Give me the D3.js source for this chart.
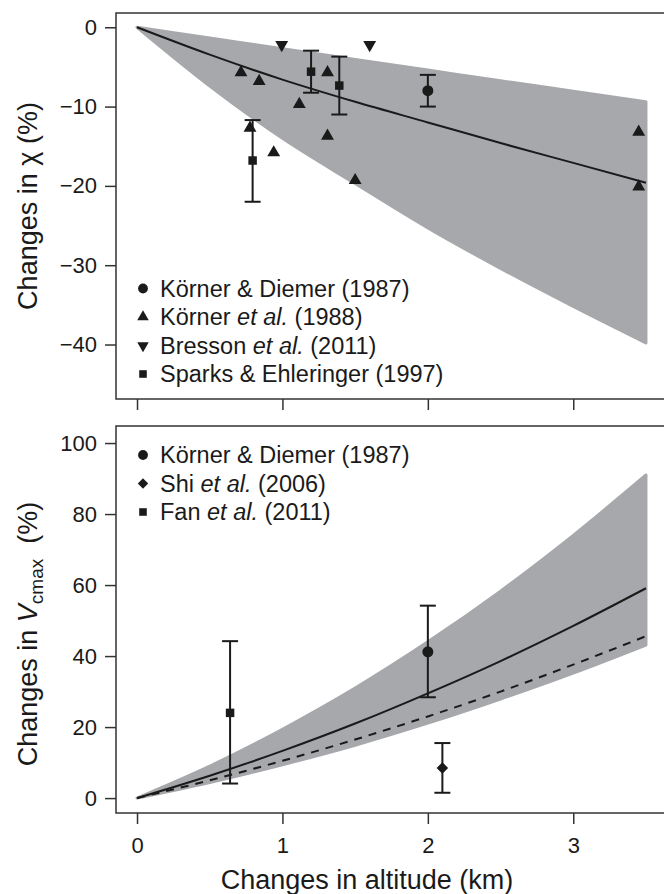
<!DOCTYPE html>
<html>
<head>
<meta charset="utf-8">
<script src="https://cdn.jsdelivr.net/npm/d3@7"></script>
<style>
  body { margin: 0; background: #fff; }
  svg { display: block; font-family: "Liberation Sans", Arial, sans-serif; }
  .axis text { font-size: 22px; fill: #1a1a1a; }
  .axis line { stroke: #333; stroke-width: 1.5; }
  .axis path { display: none; }
  .legend text { font-size: 23.5px; fill: #1a1a1a; }
  .title { font-size: 27px; fill: #1a1a1a; }
</style>
</head>
<body>
<div id="chart"></div>
<script>
// Data
const altGrid = [0, 0.5, 1, 1.5, 2, 2.5, 3, 3.5];

// top panel: changes in chi (%)
const chiFit = [0, -3.45, -6.6, -9.4, -12.0, -14.6, -17.1, -19.6];
const chiUpper = [0, -1.35, -2.7, -4.05, -5.4, -6.75, -8.05, -9.4];
const chiLower = [0, -7.4, -14.0, -19.7, -25.3, -30.4, -35.2, -39.8];

const chiKornerDiemer = [{ x: 2.0, y: -8.0, lo: -10.0, hi: -6.0 }];
const chiKorner88 = [
    { x: 0.715, y: -5.7 }, { x: 0.84, y: -6.8 }, { x: 0.777, y: -12.7 },
    { x: 0.94, y: -15.8 }, { x: 1.116, y: -9.7 }, { x: 1.31, y: -5.7 },
    { x: 1.31, y: -13.7 }, { x: 1.5, y: -19.3 }, { x: 3.45, y: -13.2 },
    { x: 3.45, y: -20.1 }
];
const chiBresson = [{ x: 0.995, y: -2.2 }, { x: 1.6, y: -2.2 }];
const chiSparks = [
    { x: 0.795, y: -16.8, lo: -22.0, hi: -11.7 },
    { x: 1.197, y: -5.6, lo: -8.25, hi: -2.95 },
    { x: 1.391, y: -7.35, lo: -11.0, hi: -3.7 }
];

// bottom panel: changes in Vcmax (%)
const vFit = [0, 6.3, 13.3, 21.0, 29.5, 38.6, 48.5, 59.1];
const vDashed = [0, 5.0, 10.5, 16.5, 23.0, 30.0, 37.6, 45.6];
const vUpper = [0, 9.0, 19.4, 31.0, 44.0, 58.3, 74.0, 91.0];
const vLower = [0, 4.4, 9.4, 14.9, 21.1, 27.9, 35.2, 43.1];

const vKornerDiemer = [{ x: 2.0, y: 41.2, lo: 28.4, hi: 54.2 }];
const vShi = [{ x: 2.1, y: 8.5, lo: 1.5, hi: 15.5 }];
const vFan = [{ x: 0.64, y: 24.0, lo: 4.1, hi: 44.2 }];

const altTicks = [0, 1, 2, 3];
const chiTicks = [0, -10, -20, -30, -40];
const vTicks = [0, 20, 40, 60, 80, 100];

const W = 664, H = 894;
const left = 116, right = 680;
const ink = "#1a1a1a", band = "#a7a8ab";

const svg = d3.select("#chart").append("svg")
    .attr("width", W)
    .attr("height", H);

const x = d3.scaleLinear().domain([-0.1445, 3.734]).range([left, right]);

const line = (ys, y) => d3.line()
    .x((d, i) => x(altGrid[i]))
    .y(d => y(d))
    .curve(d3.curveMonotoneX)(ys);

function bandPath(lo, hi, y) {
    return d3.area()
        .x((d, i) => x(altGrid[i]))
        .y0((d, i) => y(lo[i]))
        .y1((d, i) => y(hi[i]))
        .curve(d3.curveMonotoneX)(altGrid);
}

function errorBars(g, data, y) {
    const eb = g.append("g").attr("stroke", ink).attr("stroke-width", 2);
    data.forEach(d => {
        eb.append("line").attr("x1", x(d.x)).attr("x2", x(d.x)).attr("y1", y(d.lo)).attr("y2", y(d.hi));
        [d.lo, d.hi].forEach(v => {
            eb.append("line").attr("x1", x(d.x) - 8).attr("x2", x(d.x) + 8).attr("y1", y(v)).attr("y2", y(v));
        });
    });
}

const sym = {
    circle: { type: d3.symbolCircle, size: 95, rot: 0 },
    up: { type: d3.symbolTriangle, size: 72, rot: 0 },
    down: { type: d3.symbolTriangle, size: 72, rot: 180 },
    square: { type: d3.symbolSquare, size: 72, rot: 0 },
    diamond: { type: d3.symbolDiamond2, size: 85, rot: 0 }
};

function points(g, data, y, kind, scale = 1) {
    const s = sym[kind];
    g.append("g").selectAll("path")
        .data(data)
        .enter()
        .append("path")
        .attr("d", d3.symbol().type(s.type).size(s.size * scale))
        .attr("transform", d => `translate(${x(d.x)},${y(d.y)}) rotate(${s.rot})`)
        .attr("fill", ink);
}

function legend(items, y0) {
    const g = svg.append("g").attr("class", "legend");
    items.forEach((it, i) => {
        const cy = y0 + i * 28.5;
        const s = sym[it.kind];
        g.append("path")
            .attr("d", d3.symbol().type(s.type).size(s.size * 0.8))
            .attr("transform", `translate(143,${cy}) rotate(${s.rot})`)
            .attr("fill", ink);
        const t = g.append("text").attr("x", 160).attr("y", cy).attr("dy", "0.35em");
        it.parts.forEach(p => {
            t.append("tspan").text(p[0]).attr("font-style", p[1] ? "italic" : null);
        });
    });
}

// ---- top panel
const topBox = { y0: 13, y1: 399 };
const yChi = d3.scaleLinear().domain([1.8, -46.87]).range([topBox.y0, topBox.y1]);
const gTop = svg.append("g");

gTop.append("path")
    .attr("d", bandPath(chiLower, chiUpper, yChi))
    .attr("fill", band).attr("stroke", band).attr("stroke-width", 3).attr("stroke-linejoin", "round");
gTop.append("path")
    .attr("d", line(chiFit, yChi))
    .attr("fill", "none").attr("stroke", ink).attr("stroke-width", 2);

errorBars(gTop, chiKornerDiemer, yChi);
errorBars(gTop, chiSparks, yChi);
points(gTop, chiKorner88, yChi, "up");
points(gTop, chiBresson, yChi, "down");
points(gTop, chiKornerDiemer, yChi, "circle");
points(gTop, chiSparks, yChi, "square");

svg.append("rect")
    .attr("x", left).attr("y", topBox.y0)
    .attr("width", right - left).attr("height", topBox.y1 - topBox.y0)
    .attr("fill", "none").attr("stroke", "#333").attr("stroke-width", 1.5);

svg.append("g").attr("class", "axis")
    .attr("transform", `translate(${left},0)`)
    .call(d3.axisLeft(yChi).tickValues(chiTicks).tickSize(11).tickPadding(8));
svg.append("g").attr("class", "axis")
    .attr("transform", `translate(0,${topBox.y1})`)
    .call(d3.axisBottom(x).tickValues(altTicks).tickSize(11).tickFormat(""));

svg.append("text").attr("class", "title")
    .attr("transform", `translate(28,${(topBox.y0 + topBox.y1) / 2}) rotate(-90)`)
    .attr("text-anchor", "middle").attr("dy", "0.35em")
    .text("Changes in \u03c7 (%)");

legend([
    { kind: "circle", parts: [["K\u00f6rner & Diemer (1987)", false]] },
    { kind: "up", parts: [["K\u00f6rner ", false], ["et al.", true], [" (1988)", false]] },
    { kind: "down", parts: [["Bresson ", false], ["et al.", true], [" (2011)", false]] },
    { kind: "square", parts: [["Sparks & Ehleringer (1997)", false]] }
], 288.5);

// ---- bottom panel
const botBox = { y0: 426, y1: 813 };
const yV = d3.scaleLinear().domain([104.8, -4.2]).range([botBox.y0, botBox.y1]);
const gBot = svg.append("g");

gBot.append("path")
    .attr("d", bandPath(vLower, vUpper, yV))
    .attr("fill", band).attr("stroke", band).attr("stroke-width", 3).attr("stroke-linejoin", "round");
gBot.append("path")
    .attr("d", line(vDashed, yV))
    .attr("fill", "none").attr("stroke", ink).attr("stroke-width", 2).attr("stroke-dasharray", "8,7");
gBot.append("path")
    .attr("d", line(vFit, yV))
    .attr("fill", "none").attr("stroke", ink).attr("stroke-width", 2);

errorBars(gBot, vKornerDiemer, yV);
errorBars(gBot, vShi, yV);
errorBars(gBot, vFan, yV);
points(gBot, vKornerDiemer, yV, "circle");
points(gBot, vShi, yV, "diamond");
points(gBot, vFan, yV, "square");

svg.append("rect")
    .attr("x", left).attr("y", botBox.y0)
    .attr("width", right - left).attr("height", botBox.y1 - botBox.y0)
    .attr("fill", "none").attr("stroke", "#333").attr("stroke-width", 1.5);

svg.append("g").attr("class", "axis")
    .attr("transform", `translate(${left},0)`)
    .call(d3.axisLeft(yV).tickValues(vTicks).tickSize(11).tickPadding(8));
svg.append("g").attr("class", "axis")
    .attr("transform", `translate(0,${botBox.y1})`)
    .call(d3.axisBottom(x).tickValues(altTicks).tickSize(11).tickPadding(13).tickFormat(d3.format("d")));

const vt = svg.append("text").attr("class", "title")
    .attr("transform", "translate(28,634) rotate(-90)")
    .attr("text-anchor", "middle").attr("dy", "0.35em")
    .attr("xml:space", "preserve");
vt.append("tspan").text("Changes in ");
vt.append("tspan").attr("font-style", "italic").text("V");
vt.append("tspan").attr("font-size", "19px").attr("dy", "6").text("cmax");
vt.append("tspan").attr("dy", "-6").text("  (%)");

svg.append("text").attr("class", "title")
    .attr("x", 367).attr("y", 880).attr("dy", "0.35em")
    .attr("text-anchor", "middle")
    .text("Changes in altitude (km)");

legend([
    { kind: "circle", parts: [["K\u00f6rner & Diemer (1987)", false]] },
    { kind: "diamond", parts: [["Shi ", false], ["et al.", true], [" (2006)", false]] },
    { kind: "square", parts: [["Fan ", false], ["et al.", true], [" (2011)", false]] }
], 455);
</script>
</body>
</html>
